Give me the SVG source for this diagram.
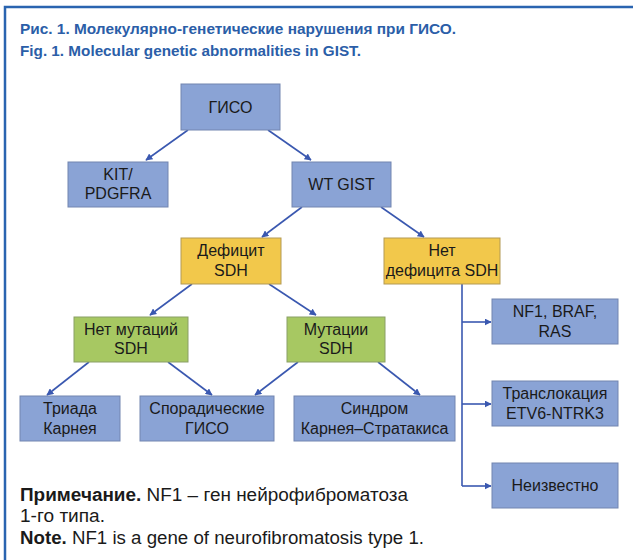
<svg xmlns="http://www.w3.org/2000/svg" width="633" height="560" viewBox="0 0 633 560">
<defs>
<marker id="ah" viewBox="0 0 10 10" refX="9" refY="5" markerWidth="7" markerHeight="7" orient="auto" markerUnits="userSpaceOnUse">
<path d="M0,0 L10,5 L0,10 z" fill="#3a58b0"/>
</marker>
<style>
.bl{fill:#8aa3d5;stroke:#7285b0;stroke-width:1}
.ye{fill:#f2c84b;stroke:#b39a55;stroke-width:1}
.gr{fill:#a7c862;stroke:#8a9f66;stroke-width:1}
.t{font-family:"Liberation Sans",Arial,sans-serif;font-size:16px;fill:#1a1a1a;text-anchor:middle}
.c{fill:none;stroke:#3a58b0;stroke-width:1.6}
.ttl{font-family:"Liberation Sans",Arial,sans-serif;font-size:15.5px;font-weight:bold;fill:#2b5ea8}
.n{font-family:"Liberation Sans",Arial,sans-serif;font-size:17.5px;fill:#1a1a1a}
</style>
</defs>
<rect x="0" y="0" width="633" height="560" fill="#ffffff"/>
<path d="M5,560 L5,7 L633,7" fill="none" stroke="#2a64b0" stroke-width="2.5"/>
<text class="ttl" x="20" y="34" textLength="436" lengthAdjust="spacingAndGlyphs">Рис. 1. Молекулярно-генетические нарушения при ГИСО.</text>
<text class="ttl" x="20" y="56" textLength="341" lengthAdjust="spacingAndGlyphs">Fig. 1. Molecular genetic abnormalities in GIST.</text>

<g id="connectors">
<line class="c" x1="188" y1="130" x2="146" y2="160" marker-end="url(#ah)"/>
<line class="c" x1="268" y1="130" x2="311" y2="160" marker-end="url(#ah)"/>
<line class="c" x1="302" y1="207" x2="262" y2="237" marker-end="url(#ah)"/>
<line class="c" x1="381" y1="207" x2="424" y2="237" marker-end="url(#ah)"/>
<line class="c" x1="192" y1="284" x2="150" y2="315" marker-end="url(#ah)"/>
<line class="c" x1="269" y1="284" x2="316" y2="315" marker-end="url(#ah)"/>
<line class="c" x1="89" y1="362" x2="47" y2="395" marker-end="url(#ah)"/>
<line class="c" x1="168" y1="362" x2="212" y2="395" marker-end="url(#ah)"/>
<line class="c" x1="298" y1="362" x2="255" y2="395" marker-end="url(#ah)"/>
<line class="c" x1="378" y1="362" x2="420" y2="395" marker-end="url(#ah)"/>
<path class="c" d="M462,284 L462,486"/>
<line class="c" x1="462" y1="322" x2="491" y2="322" marker-end="url(#ah)"/>
<line class="c" x1="462" y1="404" x2="491" y2="404" marker-end="url(#ah)"/>
<line class="c" x1="462" y1="486" x2="491" y2="486" marker-end="url(#ah)"/>
</g>

<g id="n-giso"><rect class="bl" x="181" y="84" width="99" height="46"/><text class="t" x="230.5" y="112.5">ГИСО</text></g>
<g id="n-kit"><rect class="bl" x="68" y="162" width="100" height="45"/><text class="t" x="118" y="180">KIT/</text><text class="t" x="118" y="199">PDGFRA</text></g>
<g id="n-wt"><rect class="bl" x="292" y="162" width="99" height="45"/><text class="t" x="341.5" y="190">WT GIST</text></g>
<g id="n-def"><rect class="ye" x="181" y="238" width="100" height="46"/><text class="t" x="231" y="256">Дефицит</text><text class="t" x="231" y="276">SDH</text></g>
<g id="n-nodef"><rect class="ye" x="384" y="238" width="116" height="46"/><text class="t" x="442" y="256">Нет</text><text class="t" x="442" y="276">дефицита SDH</text></g>
<g id="n-nomut"><rect class="gr" x="74" y="317" width="114" height="45"/><text class="t" x="131" y="335">Нет мутаций</text><text class="t" x="131" y="354">SDH</text></g>
<g id="n-mut"><rect class="gr" x="287" y="317" width="98" height="45"/><text class="t" x="336" y="335">Мутации</text><text class="t" x="336" y="354">SDH</text></g>
<g id="n-triad"><rect class="bl" x="20" y="396" width="100" height="45"/><text class="t" x="70" y="414">Триада</text><text class="t" x="70" y="434">Карнея</text></g>
<g id="n-spor"><rect class="bl" x="140" y="396" width="134" height="45"/><text class="t" x="207" y="414">Спорадические</text><text class="t" x="207" y="434">ГИСО</text></g>
<g id="n-synd"><rect class="bl" x="294" y="396" width="161" height="45"/><text class="t" x="374.5" y="414">Синдром</text><text class="t" x="374.5" y="434">Карнея–Стратакиса</text></g>
<g id="n-nf1"><rect class="bl" x="492" y="299" width="126" height="45"/><text class="t" x="555" y="317">NF1, BRAF,</text><text class="t" x="555" y="337">RAS</text></g>
<g id="n-trans"><rect class="bl" x="492" y="381" width="126" height="45"/><text class="t" x="555" y="399">Транслокация</text><text class="t" x="555" y="419">ETV6-NTRK3</text></g>
<g id="n-unk"><rect class="bl" x="492" y="463" width="126" height="45"/><text class="t" x="555" y="491">Неизвестно</text></g>

<text class="n" x="20" y="501" textLength="388" lengthAdjust="spacingAndGlyphs"><tspan font-weight="bold">Примечание.</tspan> NF1 – ген нейрофиброматоза</text>
<text class="n" x="20" y="522" textLength="85" lengthAdjust="spacingAndGlyphs">1-го типа.</text>
<text class="n" x="20" y="544" textLength="404" lengthAdjust="spacingAndGlyphs"><tspan font-weight="bold">Note.</tspan> NF1 is a gene of neurofibromatosis type 1.</text>
</svg>
